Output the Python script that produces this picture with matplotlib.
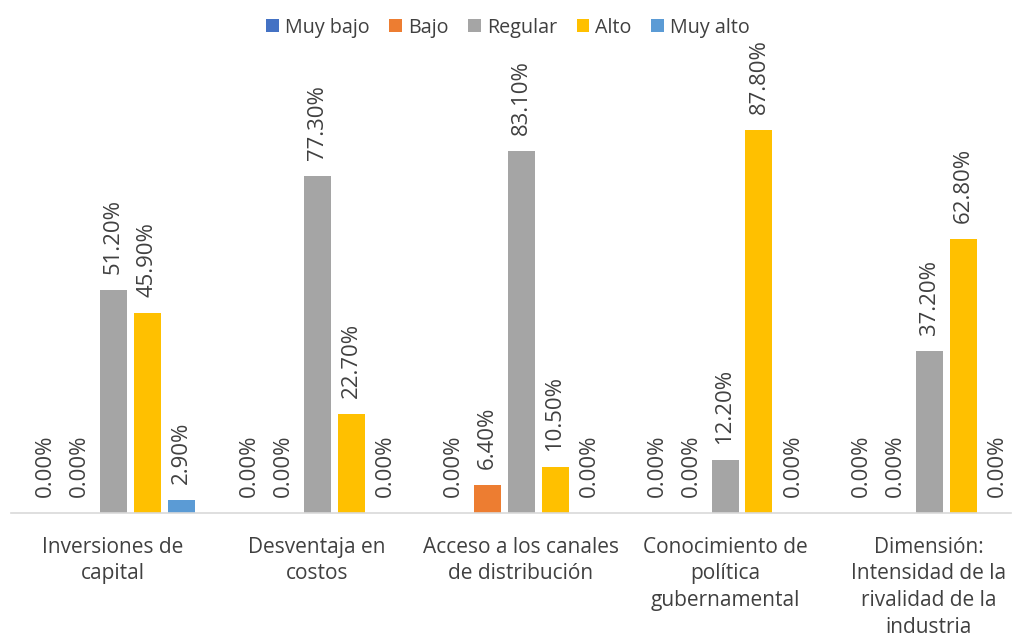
import matplotlib
matplotlib.use("Agg")
import matplotlib.pyplot as plt
import numpy as np

plt.rcParams['font.family'] = ['Open Sans', 'DejaVu Sans']

categories = ["Inversiones de\ncapital", "Desventaja en\ncostos", "Acceso a los canales\nde distribución",
              "Conocimiento de\npolítica\ngubernamental", "Dimensión:\nIntensidad de la\nrivalidad de la\nindustria"]
series_names = ["Muy bajo", "Bajo", "Regular", "Alto", "Muy alto"]
muy_bajo = [0.0, 0.0, 0.0, 0.0, 0.0]
bajo = [0.0, 0.0, 6.4, 0.0, 0.0]
regular = [51.2, 77.3, 83.1, 12.2, 37.2]
alto = [45.9, 22.7, 10.5, 87.8, 62.8]
muy_alto = [2.9, 0.0, 0.0, 0.0, 0.0]
colors = ["#4472C4", "#ED7D31", "#A5A5A5", "#FFC000", "#5B9BD5"]

data = [muy_bajo, bajo, regular, alto, muy_alto]

fig = plt.figure(figsize=(10.16, 6.4), dpi=100)
# baseline at y=513 px from top; 87.8% at 130 px
ax_bottom = 1 - 513 / 640
ax_h = 0.69
ax = fig.add_axes([11 / 1016, ax_bottom, 1000 / 1016, ax_h])
x = np.arange(len(categories))
step = 34 / 204
width = 27 / 204
for i, (name, vals, c) in enumerate(zip(series_names, data, colors)):
    pos = x + (i - 2) * step
    ax.bar(pos, vals, width=width, color=c, label=name)
    for p, v in zip(pos, vals):
        ax.annotate(f"{v:.2f}%", (p, v), xytext=(0, 11.5), textcoords="offset points",
                    rotation=90, ha="center", va="bottom", fontsize=15.9, color="#404040")

ax.set_xlim(-0.5, -0.5 + 1000 / 204)
ymax = (ax_h * 640) / ((513 - 130) / 87.8)
ax.set_ylim(0, ymax)
ax.set_yticks([])
ax.set_xticks(x)
ax.set_xticklabels(categories, fontsize=15, color="#404040", linespacing=1.36)
ax.tick_params(axis="x", length=0, pad=17)
for s in ["top", "right", "left"]:
    ax.spines[s].set_visible(False)
ax.spines["bottom"].set_color("#D9D9D9")
ax.spines["bottom"].set_linewidth(1.2)

fig.legend(loc="upper center", bbox_to_anchor=(0.5, 1.0), ncol=5, frameon=False,
           fontsize=14.2, handlelength=0.65, handleheight=0.65, handletextpad=0.3,
           columnspacing=1.0, labelcolor="#404040")
fig.savefig("out.png", dpi=100)
